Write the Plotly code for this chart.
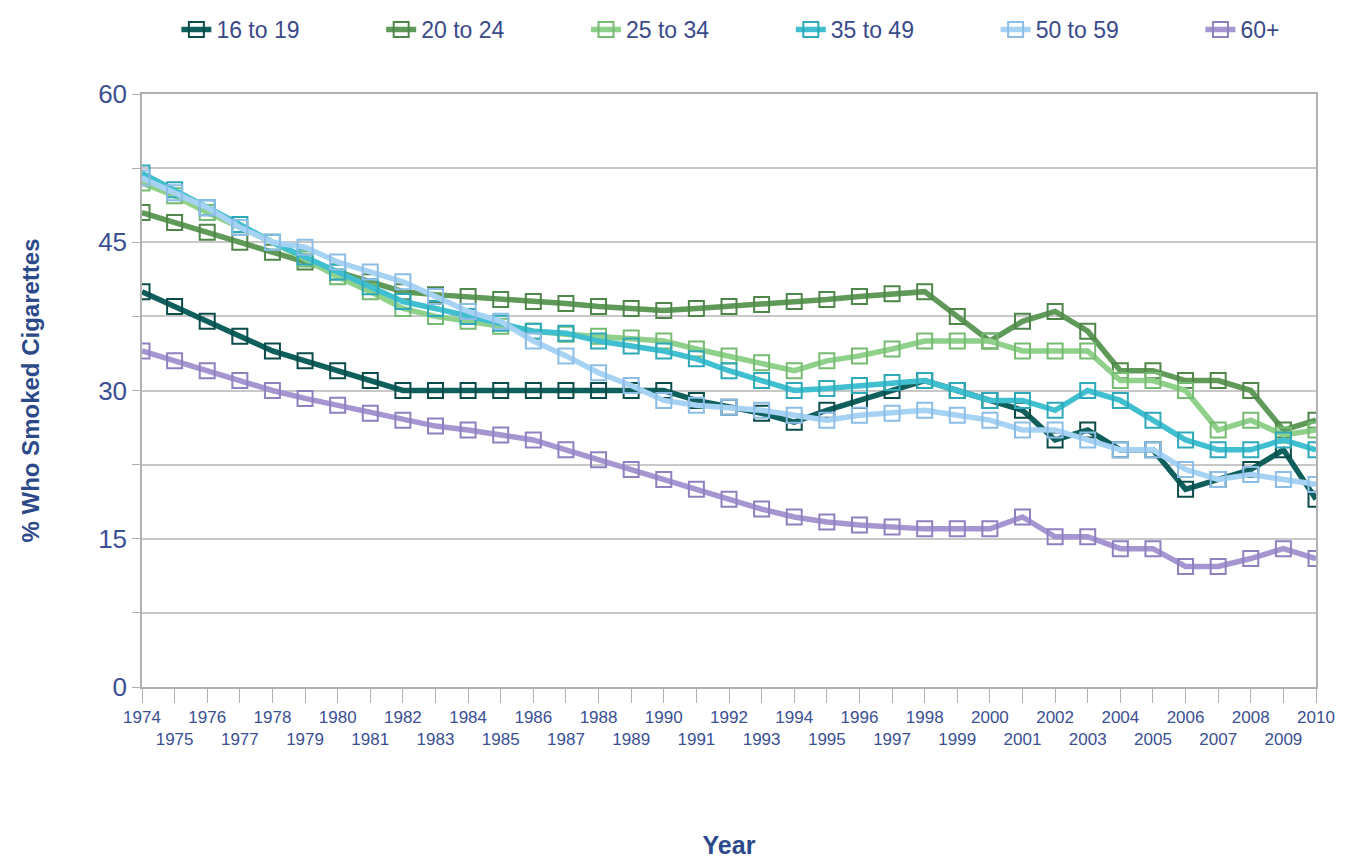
import plotly.graph_objects as go

years = list(range(1974, 2011))

s16_19 = [40, 38.5, 37, 35.5, 34, 33, 32, 31, 30, 30, 30, 30, 30, 30, 30, 30, 30,
          29, 28.3, 27.7, 26.8, 28, 29, 30, 31, 30, 29, 28, 25, 26, 24, 24, 20, 21, 22, 24, 19]
s20_24 = [48, 47, 46, 45, 44, 43, 42, 41, 40, 39.7, 39.5, 39.2, 39, 38.8, 38.5, 38.3, 38.1,
          38.3, 38.5, 38.7, 39, 39.2, 39.5, 39.8, 40, 37.5, 35, 37, 38, 36, 32, 32, 31, 31, 30, 26, 27]
s25_34 = [51, 49.7, 48, 46.5, 45, 43.3, 41.5, 40, 38.3, 37.5, 37, 36.5, 36, 35.7, 35.5, 35.3, 35,
          34.2, 33.5, 32.8, 32, 33, 33.5, 34.2, 35, 35, 35, 34, 34, 34, 31, 31, 30, 26, 27, 25.5, 26]
s35_49 = [52, 50.3, 48.5, 46.8, 45, 43.5, 42, 40.5, 39, 38.3, 37.5, 36.8, 36, 35.8, 35, 34.5, 34,
          33.2, 32, 31, 30, 30.2, 30.5, 30.8, 31, 30, 29, 29, 28, 30, 29, 27, 25, 24, 24, 25, 24]
s50_59 = [51.5, 50, 48.5, 46.5, 45, 44.5, 43, 42, 41, 39.5, 38, 37, 35, 33.5, 31.8, 30.5, 29,
          28.5, 28.3, 28, 27.5, 27, 27.5, 27.7, 28, 27.5, 27, 26, 26, 25, 24, 24, 22, 21, 21.5, 21, 20.5]
s60p = [34, 33, 32, 31, 30, 29.2, 28.5, 27.7, 27, 26.4, 26, 25.5, 25, 24, 23, 22, 21,
        20, 19, 18, 17.2, 16.7, 16.4, 16.2, 16, 16, 16, 17.2, 15.2, 15.2, 14, 14, 12.2, 12.2, 13, 14, 13]

series_names = ["16 to 19", "20 to 24", "25 to 34", "35 to 49", "50 to 59", "60+"]
series_vals = [s16_19, s20_24, s25_34, s35_49, s50_59, s60p]
line_colors = ["#0f5f5c", "#5f9a58", "#8fd08a", "#3fbfcf", "#a6d2f4", "#a596d2"]
marker_colors = ["#0b4c4a", "#4f8649", "#77bb72", "#2ea9ba", "#8cbde6", "#8f80bf"]

tick_text = [str(y) if (y - 1974) % 2 == 0 else "<br>" + str(y) for y in years]

fig = go.Figure()
for i, (name, vals, lc, mc) in enumerate(zip(series_names, series_vals, line_colors, marker_colors)):
    label = name if i == len(series_names) - 1 else name + "\u00a0" * 12
    fig.add_trace(go.Scatter(
        x=years, y=vals, name=label, mode="lines+markers",
        line=dict(color=lc, width=5.5),
        marker=dict(symbol="square-open", size=15, color=mc, line=dict(width=2, color=mc)),
        hovertemplate=name + ": %{y}<extra></extra>",
    ))

label_color = "#3b4f94"
fig.update_layout(
    width=1347, height=860,
    paper_bgcolor="white", plot_bgcolor="white",
    margin=dict(l=134, r=39, t=86, b=181),
    font=dict(family="Liberation Sans, Arial, sans-serif", color=label_color),
    legend=dict(orientation="h", x=0.125, xanchor="left", xref="container",
                y=1.0, yanchor="top", yref="container",
                font=dict(size=23, color="#3a4a8a"),
                itemwidth=30, traceorder="normal"),
    xaxis=dict(
        range=[1974, 2010], tickmode="array", tickvals=years, ticktext=tick_text,
        tickfont=dict(size=17, color=label_color), tickangle=0,
        showgrid=False, showline=True, linecolor="#b0b0b0", linewidth=1.5, mirror=True,
        ticks="outside", ticklen=14, tickcolor="#b0b0b0",
        title=dict(text="<b>Year</b>", font=dict(size=25, color="#2c4a8a"), standoff=88),
        zeroline=False,
    ),
    yaxis=dict(
        range=[0, 60], tickmode="array", tickvals=[0, 15, 30, 45, 60],
        tickfont=dict(size=26, color=label_color),
        showgrid=False, showline=True, linecolor="#b0b0b0", linewidth=1.5, mirror=True,
        ticks="outside", ticklen=8, tickcolor="#b0b0b0",
        minor=dict(tickmode="array", tickvals=[7.5, 22.5, 37.5, 52.5, 0, 15, 30, 45, 60],
                   showgrid=True, gridcolor="#c8c8c8", gridwidth=1.5,
                   ticks="outside", ticklen=8, tickcolor="#b0b0b0"),
        title=dict(text="<b>% Who Smoked Cigarettes</b>", font=dict(size=24, color="#2c4a8a"), standoff=52),
        zeroline=False,
    ),
)

fig.write_html("out.html")
